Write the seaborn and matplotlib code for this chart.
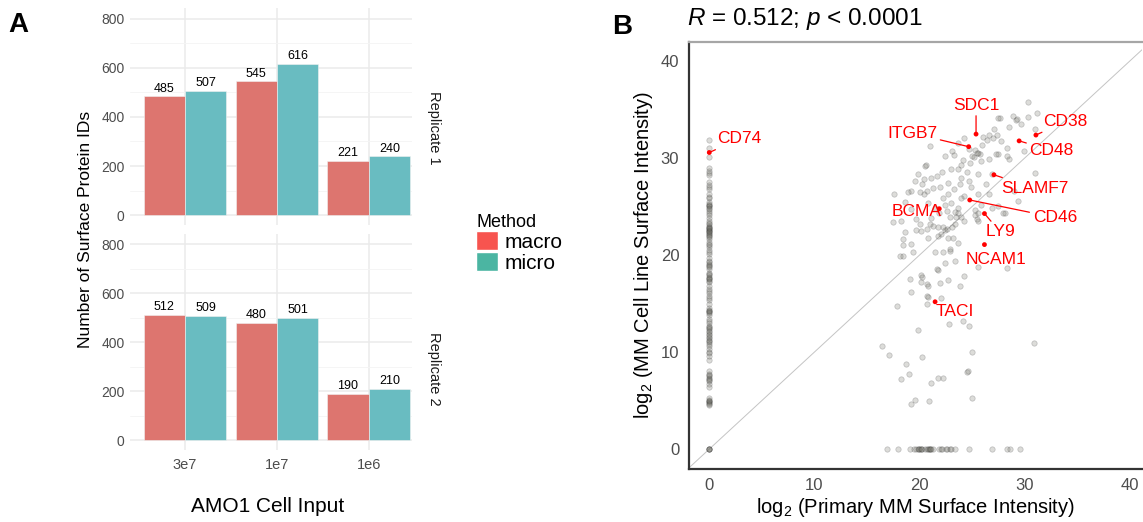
import matplotlib
matplotlib.use('Agg')
import matplotlib.pyplot as plt
from matplotlib.patches import Patch
import seaborn as sns
import pandas as pd
import numpy as np

# ---- panel A : surface protein IDs per cell input
cell_input = ['3e7', '1e7', '1e6']
methods = ['macro', 'micro']
replicates = ['Replicate 1', 'Replicate 2']
rep1_macro = [485, 545, 221]
rep1_micro = [507, 616, 240]
rep2_macro = [512, 480, 190]
rep2_micro = [509, 501, 210]

# ---- panel B : log2 intensities
clus_x = [30.3, 27.7, 29.2, 30.3, 31.2, 28.5, 31.0, 26.6, 27.0, 27.4,
          26.1, 26.4, 27.8, 24.3, 23.7, 21.0, 25.3, 25.6, 25.8, 25.0,
          23.1, 22.4, 23.3, 25.9, 26.6, 27.5, 28.3, 28.5, 24.2, 24.0,
          23.7, 24.5, 24.0, 22.2, 21.7, 21.1, 20.5, 19.9, 19.6, 20.3,
          19.2, 20.7, 20.4, 17.6, 22.7, 23.9, 24.7, 25.6, 26.9, 26.3,
          26.6, 25.6, 24.3, 22.7, 22.3, 23.7, 25.9, 26.9, 27.5, 28.2,
          25.3, 21.1, 18.3, 31.0, 29.0, 29.4,
          25.5, 25.2, 24.8, 22.4, 22.6, 21.9, 22.9, 23.4, 21.5, 20.8,
          21.3, 22.0, 23.0, 24.7, 26.0, 27.1, 28.9, 29.7, 23.0, 24.0,
          24.9, 23.3,
          17.5, 18.6, 18.2, 20.7, 28.0, 28.3, 27.3, 27.5, 29.3, 30.0,
          20.6, 20.4, 20.1, 18.9, 18.6, 19.2, 19.7, 20.1, 22.4, 23.4,
          23.7, 25.3, 25.6, 25.6, 22.9, 21.8,
          19.7, 20.2, 20.7, 21.0, 21.3, 21.8, 22.3, 22.6, 23.1, 23.5,
          24.0, 24.3, 25.5, 22.1, 22.7, 23.2, 23.7, 18.4, 18.4, 19.2,
          20.8, 21.8, 21.5, 22.3, 22.9, 18.4, 19.4, 23.4, 22.4, 25.6,
          28.3, 21.7, 20.2, 20.3, 19.1, 20.2, 20.7, 20.8, 22.0, 22.7,
          23.9, 24.3, 19.2, 20.8, 22.1, 17.9, 20.7, 22.8, 24.2, 24.7,
          19.9,
          16.4, 17.1, 18.7, 19.0, 18.3, 20.3, 25.0, 30.9, 24.5, 24.6,
          21.8, 22.3, 21.1, 19.6, 19.2, 20.9, 25.0]
clus_y = [35.8, 34.2, 34.0, 34.3, 34.7, 33.2, 33.0, 32.4, 32.1, 32.4,
          32.2, 31.9, 31.8, 32.1, 31.6, 31.3, 30.9, 30.6, 30.4, 30.2,
          30.8, 30.2, 30.3, 29.7, 29.9, 30.4, 31.1, 29.9, 29.8, 29.3,
          28.9, 28.6, 28.0, 28.6, 28.2, 28.0, 29.2, 28.4, 27.7, 27.4,
          26.6, 26.6, 26.3, 26.3, 27.5, 27.4, 27.7, 28.4, 28.4, 27.3,
          26.3, 26.3, 26.1, 26.3, 25.9, 24.9, 25.2, 24.9, 25.1, 24.4,
          24.2, 23.8, 23.5, 28.5, 26.6, 25.6,
          30.6, 30.1, 29.5, 25.2, 24.6, 24.4, 23.9, 24.5, 24.9, 25.4,
          26.9, 27.0, 28.9, 31.0, 31.4, 33.0, 34.4, 33.5, 25.4, 25.9,
          27.0, 26.8,
          23.4, 22.4, 19.9, 15.8, 24.4, 30.2, 30.4, 34.2, 34.1, 30.8,
          29.3, 27.9, 26.5, 26.5, 25.5, 24.8, 23.7, 23.2, 22.6, 23.2,
          24.4, 24.7, 24.4, 23.5, 20.4, 18.5,
          22.6, 22.5, 22.7, 23.2, 23.0, 22.9, 22.9, 22.7, 22.9, 23.9,
          23.9, 23.5, 23.7, 22.2, 21.8, 21.8, 21.3, 21.7, 21.1, 21.2,
          21.8, 22.0, 20.3, 20.3, 20.6, 19.9, 20.3, 19.4, 19.2, 18.8,
          18.7, 18.6, 18.0, 17.8, 17.5, 17.2, 17.0, 16.8, 17.1, 17.4,
          16.8, 17.9, 16.2, 15.7, 15.6, 14.8, 15.0, 12.9, 13.2, 12.7,
          12.3,
          10.6, 9.7, 8.8, 7.8, 7.2, 9.5, 10.0, 10.9, 8.0, 8.1,
          7.3, 7.3, 6.8, 5.1, 4.7, 5.0, 5.3]

# proteins not seen in primary MM (x = 0)
zero_x_y = [31.9, 31.1, 30.1, 29.0, 28.7, 28.3, 27.6, 27.2, 26.8, 26.3,
            25.9, 25.5, 25.2, 25.1, 25.1, 24.9, 24.6, 24.2, 23.8, 23.5,
            23.2, 23.0, 22.9, 22.8, 22.7, 22.6, 22.5, 22.5, 22.3, 22.2,
            22.0, 21.7, 21.4, 21.1, 20.8, 20.5, 20.1, 19.7, 19.4, 19.1,
            19.0, 18.9, 18.6, 18.2, 18.0, 17.8, 17.6, 17.5, 17.2, 16.8,
            16.5, 16.1, 15.8, 15.4, 15.0, 14.6, 14.3, 14.2, 14.1, 13.8,
            13.4, 13.0, 12.7, 12.5, 12.4, 12.1, 11.9, 11.6, 11.5, 11.3,
            11.0, 10.6, 10.3, 10.0, 9.6, 9.2, 8.1, 7.8, 7.5, 7.3,
            7.2, 7.0, 6.7, 6.4, 5.3, 5.0, 5.0, 4.9, 4.8, 4.6,
            28.5, 27.0, 26.0, 25.3, 24.8, 24.4, 23.3, 22.8, 22.4, 22.1,
            21.9, 21.2, 20.3, 19.3, 18.8, 18.1, 17.7, 17.3, 16.3, 15.6,
            14.4, 14.0, 13.2, 12.6, 12.2, 11.8, 11.2, 10.8, 9.9, 7.6,
            7.1, 5.1, 4.7,
            0.0, 0.0, 0.0, 0.0]
# proteins not seen in the cell line (y = 0)
zero_y_x = [16.9, 18.0, 19.1, 19.5, 19.7, 19.9, 20.0, 20.0, 20.2, 20.2,
            20.3, 20.5, 20.7, 20.8, 20.9, 21.0, 21.0, 21.1, 21.3, 21.9,
            22.1, 22.2, 22.5, 22.6, 22.9, 23.0, 23.4, 24.7, 26.9, 28.3,
            28.6, 29.6]

genes = ['CD74', 'SDC1', 'ITGB7', 'CD38', 'CD48', 'SLAMF7',
         'CD46', 'BCMA', 'LY9', 'NCAM1', 'TACI']
gene_x = [0.0, 25.4, 24.7, 31.1, 29.5, 27.1, 24.8, 21.9, 26.2, 26.2, 21.5]
gene_y = [30.6, 32.5, 31.2, 32.4, 31.8, 28.3, 25.7, 24.8, 24.3, 21.1, 15.2]
label_x = [2.85, 25.4, 19.3, 33.9, 32.6, 31.0, 32.9, 19.7, 27.7, 27.3, 23.4]
label_y = [32.0, 35.5, 32.6, 33.8, 30.8, 26.9, 23.9, 24.5, 22.4, 19.6, 14.2]
has_segment = [True, True, True, True, True, True, True, False, True, False, False]

# ---- style
sns.set_style('white')
plt.rcParams['font.family'] = ['Liberation Sans', 'DejaVu Sans']
plt.rcParams['text.color'] = 'black'
plt.rcParams['axes.labelcolor'] = 'black'
plt.rcParams['mathtext.fontset'] = 'custom'
plt.rcParams['mathtext.rm'] = 'Liberation Sans'
plt.rcParams['mathtext.it'] = 'Liberation Sans:italic'
plt.rcParams['mathtext.default'] = 'regular'

W, H = 1143, 522
fig = plt.figure(figsize=(W / 100, H / 100), dpi=100)

bar_colors = {'macro': '#DD756F', 'micro': '#69BCC1'}
key_colors = ['#F7544F', '#4BB5A2']

rows = []
for rep, mac, mic in [(replicates[0], rep1_macro, rep1_micro),
                      (replicates[1], rep2_macro, rep2_micro)]:
    for i, c in enumerate(cell_input):
        rows.append({'rep': rep, 'input': c, 'method': 'macro', 'n': mac[i]})
        rows.append({'rep': rep, 'input': c, 'method': 'micro', 'n': mic[i]})
df_a = pd.DataFrame(rows)

ax_top = fig.add_axes([130 / W, 1 - 225 / H, 282.3 / W, 216.7 / H])
ax_bot = fig.add_axes([130 / W, 1 - 450 / H, 282.3 / W, 216 / H])

for ax, rep in zip([ax_top, ax_bot], replicates):
    sub = df_a[df_a['rep'] == rep]
    sns.barplot(data=sub, x='input', y='n', hue='method', order=cell_input,
                hue_order=methods, palette=bar_colors, width=0.9,
                saturation=1, legend=False, ax=ax,
                edgecolor='#F2F2F2', linewidth=0.4)
    for cont in ax.containers:
        ax.bar_label(cont, fmt='%d', padding=1, fontsize=9, color='black')
    ax.set_xlim(-0.6, 2.475)
    ax.set_ylim(-40, 842)
    ax.set_yticks([0, 200, 400, 600, 800])
    ax.set_yticks([100, 300, 500, 700], minor=True)
    ax.set_axisbelow(True)
    ax.yaxis.grid(True, which='major', color='#EBEBEB', lw=1.1)
    ax.yaxis.grid(True, which='minor', color='#F4F4F4', lw=0.6)
    ax.xaxis.grid(True, color='#EBEBEB', lw=1.1)
    ax.tick_params(which='both', length=0, labelsize=10, labelcolor='#4D4D4D')
    ax.tick_params(axis='y', pad=4)
    ax.set_xlabel('')
    ax.set_ylabel('')
    for s in ax.spines.values():
        s.set_visible(False)

ax_top.set_xticklabels([])
ax_bot.tick_params(axis='x', labelsize=10.5, pad=6)

fig.text(434 / W, 1 - 128 / H, 'Replicate 1', rotation=-90, ha='center',
         va='center', fontsize=10.5, color='#1A1A1A')
fig.text(434 / W, 1 - 369 / H, 'Replicate 2', rotation=-90, ha='center',
         va='center', fontsize=10.5, color='#1A1A1A')
fig.text(85 / W, 1 - 229.5 / H, 'Number of Surface Protein IDs', rotation=90,
         ha='center', va='center', fontsize=12.5)
fig.text(268 / W, 1 - 507 / H, 'AMO1 Cell Input', ha='center', va='center',
         fontsize=15)

handles = [Patch(facecolor=key_colors[0]), Patch(facecolor=key_colors[1])]
fig.legend(handles=handles, labels=methods, title='Method', loc='upper left',
           bbox_to_anchor=(476 / W, 1 - 214 / H), frameon=False, fontsize=15,
           title_fontsize=13, handlelength=1.05, handleheight=1.05,
           handletextpad=0.3, labelspacing=0.0, borderpad=0,
           borderaxespad=0, alignment='left')

# ---- panel B
ax_b = fig.add_axes([689 / W, 1 - 468.5 / H, 453 / W, 426.5 / H])

pts = pd.DataFrame({
    'x': clus_x + [0.0] * len(zero_x_y) + zero_y_x,
    'y': clus_y + zero_x_y + [0.0] * len(zero_y_x),
})
ax_b.axline((0, 0), slope=1, color='#C4C4C4', lw=0.7, zorder=1)
sns.scatterplot(data=pts, x='x', y='y', ax=ax_b, s=15, color='#6E6E64',
                edgecolor='#202020', linewidth=0.5, alpha=0.24, zorder=2)
gdf = pd.DataFrame({'x': gene_x, 'y': gene_y})
sns.scatterplot(data=gdf, x='x', y='y', ax=ax_b, s=12, color='red',
                edgecolor='none', zorder=3)

for g, px, py, tx, ty, seg in zip(genes, gene_x, gene_y, label_x, label_y,
                                  has_segment):
    arrow = dict(arrowstyle='-', color='red', lw=0.9, shrinkA=0, shrinkB=0) if seg else None
    ax_b.annotate(g, xy=(px, py), xytext=(tx, ty), ha='center', va='center',
                  color='red', fontsize=12.5, arrowprops=arrow, zorder=4)

ax_b.set_xlim(-1.93, 41.2)
ax_b.set_ylim(-2.0, 42.0)
ax_b.set_xticks([0, 10, 20, 30, 40])
ax_b.set_yticks([0, 10, 20, 30, 40])
ax_b.tick_params(direction='out', length=4, width=1, color='#333333',
                 labelsize=12, labelcolor='#4D4D4D', pad=3)
ax_b.set_xlabel('log$_2$ (Primary MM Surface Intensity)', fontsize=14.5,
                labelpad=2)
ax_b.set_ylabel('log$_2$ (MM Cell Line Surface Intensity)', fontsize=14.5,
                labelpad=4)
for side in ['left', 'bottom']:
    ax_b.spines[side].set_color('#333333')
    ax_b.spines[side].set_linewidth(1.6)
ax_b.spines['top'].set_color('#A6A6A6')
ax_b.spines['top'].set_linewidth(1.6)
ax_b.spines['right'].set_visible(False)

fig.text(687 / W, 1 - 25 / H, r'$\mathit{R}$ = 0.512; $\mathit{p}$ < 0.0001',
         ha='left', va='baseline', fontsize=17.5)

fig.text(8 / W, 1 - 32 / H, 'A', fontsize=20, fontweight='bold', va='baseline')
fig.text(612 / W, 1 - 34 / H, 'B', fontsize=20, fontweight='bold', va='baseline')

fig.savefig('out.png', dpi=100)
